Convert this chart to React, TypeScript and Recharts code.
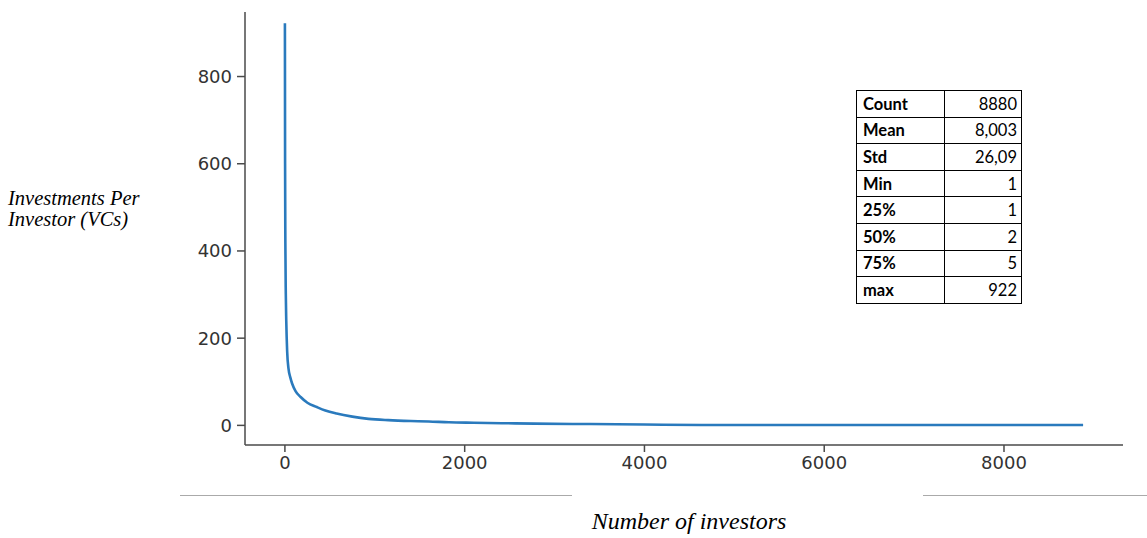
import { LineChart, Line, XAxis, YAxis } from "recharts";

// rank of investor (sorted by number of deals) and investments at that rank
const ranks = [0, 2, 5, 10, 15, 25, 40, 60, 80, 120, 175, 250, 355, 450, 575, 750, 930, 1150, 1400, 1600, 1825, 2100, 2415, 2775, 3400, 4000, 4630, 8880];
const investments = [922, 600, 420, 300, 240, 170, 130, 110, 96, 78, 65, 52, 42, 34, 27, 20, 15, 12, 10, 9, 7, 6, 5, 4, 3, 2, 1, 1];

const xTicks = [0, 2000, 4000, 6000, 8000];
const yTicks = [0, 200, 400, 600, 800];

const statLabels = ["Count", "Mean", "Std", "Min", "25%", "50%", "75%", "max"];
const statValues = ["8880", "8,003", "26,09", "1", "1", "2", "5", "922"];

const axisColor = "#4a4a4a";
const tickStyle = { fill: "#333", fontSize: 18, fontFamily: "DejaVu Sans" };

export default function App() {
  const data = ranks.map((r, i) => ({ rank: r, count: investments[i] }));

  return (
    <div style={{ position: "absolute", left: 0, top: 0, width: 1147, height: 538, background: "#fff" }}>
      <LineChart
        width={1147}
        height={538}
        data={data}
        margin={{ top: 12, right: 24, left: 200, bottom: 63 }}
      >
        <XAxis
          type="number"
          dataKey="rank"
          domain={[-444, 9324]}
          ticks={xTicks}
          height={30}
          tickSize={7}
          tickMargin={4}
          stroke={axisColor}
          strokeWidth={1.5}
          tick={tickStyle}
        />
        <YAxis
          type="number"
          domain={[-45, 948]}
          ticks={yTicks}
          width={45}
          tickSize={8}
          tickMargin={5}
          stroke={axisColor}
          strokeWidth={1.5}
          tick={tickStyle}
        />
        <Line
          type="monotone"
          dataKey="count"
          stroke="#2a7abd"
          strokeWidth={2.6}
          dot={false}
          isAnimationActive={false}
        />
      </LineChart>

      {/* y axis caption */}
      <div
        style={{
          position: "absolute",
          left: 8,
          top: 188,
          fontFamily: "Liberation Serif",
          fontStyle: "italic",
          fontSize: 20.5,
          lineHeight: "21px",
          color: "#000",
          whiteSpace: "nowrap",
        }}
      >
        Investments Per
        <br />
        Investor (VCs)
      </div>

      {/* decorative rules + x caption */}
      <div style={{ position: "absolute", left: 180, top: 495, width: 392, height: 1, background: "#aaa" }} />
      <div style={{ position: "absolute", left: 923, top: 495, width: 224, height: 1, background: "#aaa" }} />
      <div
        style={{
          position: "absolute",
          left: 489,
          width: 400,
          top: 507,
          textAlign: "center",
          fontFamily: "Liberation Serif",
          fontStyle: "italic",
          fontSize: 24,
          lineHeight: "28px",
          color: "#000",
        }}
      >
        Number of investors
      </div>

      {/* summary stats table */}
      <table
        style={{
          position: "absolute",
          left: 856,
          top: 90,
          width: 166,
          borderCollapse: "collapse",
          fontFamily: "Lato",
          fontSize: 16.5,
          color: "#000",
          background: "#fff",
        }}
      >
        <tbody>
          {statLabels.map((lab, i) => (
            <tr key={lab} style={{ height: 26.6 }}>
              <td style={{ border: "1px solid #000", width: 75, padding: "0 6px", fontWeight: 700 }}>{lab}</td>
              <td style={{ border: "1px solid #000", padding: "0 4px", textAlign: "right" }}>{statValues[i]}</td>
            </tr>
          ))}
        </tbody>
      </table>
    </div>
  );
}
